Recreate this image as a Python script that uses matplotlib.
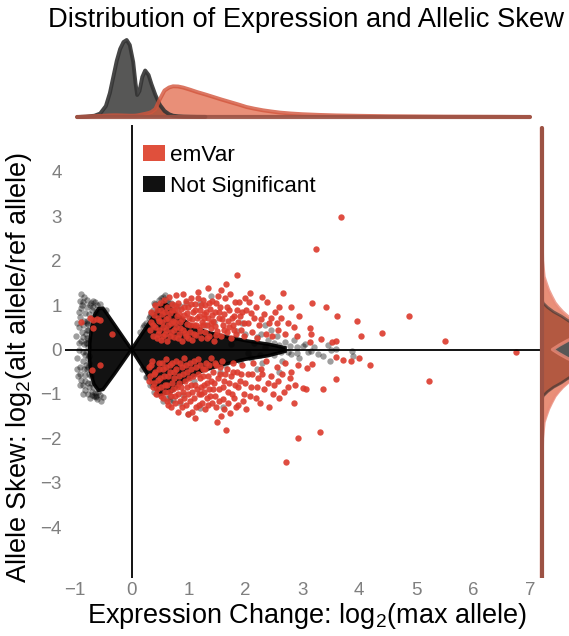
import matplotlib
matplotlib.use("Agg")
import matplotlib.pyplot as plt
from matplotlib.patches import Patch

plt.rcParams['font.family'] = ['Liberation Sans', 'DejaVu Sans']
plt.rcParams['mathtext.fontset'] = 'custom'
plt.rcParams['mathtext.rm'] = 'Liberation Sans'
plt.rcParams['mathtext.it'] = 'Liberation Sans:italic'
plt.rcParams['mathtext.default'] = 'regular'

# ---------------- data ----------------
title = "Distribution of Expression and Allelic Skew"
xlabel = r"Expression Change: log$_2$(max allele)"
ylabel = r"Allele Skew: log$_2$(alt allele/ref allele)"
xticks = [-1, 0, 1, 2, 3, 4, 5, 6, 7]
yticks = [-4, -3, -2, -1, 0, 1, 2, 3, 4]
legend_labels = ["emVar", "Not Significant"]

# marginal density of expression (top)
expr_grid = [-0.95, -0.8, -0.65, -0.55, -0.45, -0.38, -0.32, -0.26, -0.2, -0.14, -0.085,
             -0.03, 0.03, 0.07, 0.1, 0.14, 0.19, 0.24, 0.3, 0.35, 0.42, 0.5, 0.58, 0.66,
             0.73, 0.82, 0.91, 1.03, 1.15, 1.3, 1.44, 1.58, 1.73, 1.88, 2.02, 2.16, 2.31,
             2.46, 2.61, 2.8, 3.0, 3.3, 3.6, 4.0, 4.5, 5.0, 5.5, 6.0, 6.5, 7.0]
expr_dens_ns = [0, 0.4, 1.3, 3.5, 11, 24, 40, 56, 68, 75, 77,
                72, 55, 34, 22, 26, 40, 46.5, 42, 33, 22, 12, 6, 2.8,
                1.3, 0.7, 0.4, 0.25, 0.15, 0.1, 0.06, 0.04, 0.03, 0.02, 0.01, 0, 0,
                0, 0, 0, 0, 0, 0, 0, 0, 0, 0, 0, 0, 0]
expr_dens_em = [0, 0.4, 0.8, 1.1, 1.4, 1.6, 1.7, 1.7, 1.6, 1.5, 1.4,
                1.3, 1.3, 1.4, 1.6, 2.0, 2.6, 3.2, 4.0, 5.0, 8.0, 18, 26.5, 29.5,
                30.7, 30.5, 29.4, 27.3, 25, 22.5, 20, 17.5, 15, 12.5, 10, 8.3, 6.7,
                5.5, 4.4, 3.5, 2.8, 2.1, 1.6, 1.2, 0.8, 0.6, 0.4, 0.3, 0.2, 0]

# marginal density of allelic skew (right)
skew_grid = [-5.15, -4.0, -3.0, -2.5, -2.0, -1.8, -1.64, -1.5, -1.34, -1.2, -1.05, -0.95,
             -0.85, -0.75, -0.63, -0.55, -0.45, -0.3, -0.2, -0.1, 0.0, 0.1, 0.2, 0.3,
             0.45, 0.55, 0.63, 0.75, 0.85, 0.95, 1.05, 1.2, 1.34, 1.5, 1.64, 1.8, 2.0,
             2.5, 3.0, 4.0, 4.98]
skew_dens_ns = [0, 0, 0, 0, 0, 0, 0, 0, 0, 0.3, 1.5, 6,
                12, 20, 28, 38, 55, 95, 125, 150, 165, 150, 125, 95,
                55, 38, 28, 20, 12, 6, 1.5, 0.3, 0, 0, 0, 0, 0,
                0, 0, 0, 0]
skew_dens_em = [0, 0.1, 0.25, 0.5, 1, 1.8, 2.5, 4.5, 7, 10, 13.5, 17,
                21, 26, 34, 41, 45, 36, 26, 18, 11, 18, 26, 36,
                45, 41, 34, 26, 21, 17, 13.5, 10, 7, 4.5, 2.5, 1.8, 1,
                0.5, 0.3, 0.1, 0]

# dense core of non-significant variants (outline of the saturated region)
core_left_x = [0.0, -0.3, -0.5, -0.58, -0.65, -0.7, -0.73, -0.74, -0.72, -0.66, -0.58, -0.5, -0.3, 0.0]
core_left_y = [0.0, 0.56, 0.93, 0.92, 0.78, 0.5, 0.2, -0.15, -0.5, -0.78, -0.92, -0.9, -0.55, 0.0]
core_right_x = [0.0, 0.27, 0.5, 0.56, 0.65, 0.8, 1.0, 1.3, 1.7, 2.0, 2.4, 2.7,
                2.7, 2.4, 2.0, 1.6, 1.2, 0.9, 0.7, 0.5, 0.44, 0.27, 0.0]
core_right_y = [0.0, 0.52, 0.96, 1.06, 0.98, 0.78, 0.58, 0.4, 0.28, 0.2, 0.12, 0.04,
                -0.04, -0.14, -0.22, -0.34, -0.5, -0.74, -0.95, -1.02, -0.91, -0.54, 0.0]

# individually visible non-significant variants
ns_x = [-0.89, -0.85, -0.79, -0.73, -0.88, -0.82, -0.67, -0.9, -0.85, -0.79, -0.85, -0.76,
        -0.82, -0.85, -0.9, -0.82, -0.88, -0.76, -0.82, -0.7, -0.73, -0.64, -0.93, -0.5,
        -0.95, -0.92, -0.78, -0.74, -0.7, -0.62, -0.6, -0.77, -0.8, -0.74, -0.78, -0.72,
        -0.68, -0.58, -0.86, -0.95, -0.92, -0.75, -0.84, -0.8, -0.9, -0.87, -0.66, -0.6,
        -0.77, -0.76, -0.78, -0.77, -0.74, -0.7, -0.72, -0.79, -0.8, -0.78, -0.76,
        -0.55, -0.45, -0.64, -0.56, -0.62, -0.54,
        -0.98, -0.96, -0.93, -0.91, -0.87, -0.83, -0.81, -0.79, -0.76, -0.75, -0.72, -0.69,
        -0.86, -0.84, -0.8, -0.88, -0.94, -0.9, -0.83, -0.68, -0.85, -0.62,
        0.42, 0.48, 0.55, 0.6, 0.65, 0.7, 0.38, 0.75, 0.52, 0.33, 0.25, 0.3, 0.2, 0.28, 0.36, 0.45,
        0.62, 0.58, 0.8, 0.68,
        0.15, 0.22, 0.35, 0.4, 0.18, 0.25, 0.32, 0.4, 0.55, 0.68, 0.9, 0.85,
        1.5, 1.65, 1.8, 1.9, 2.0, 2.1, 2.2, 2.3, 2.4, 2.5, 2.55, 2.6, 2.65, 2.7, 2.8,
        2.85, 2.9, 2.95, 3.02, 3.15, 3.27, 3.37, 3.46, 3.48, 3.87, 3.9, 2.45, 2.2, 1.2,
        0.73, 1.95, 2.35, 2.6, 1.0, 1.4, 0.95, 1.21, 1.6, 0.85, 3.6, 3.05, 2.75,
        1.75, 2.05, 2.15, 2.25, 2.35, 2.5, 2.62, 2.78, 2.9, 3.1, 3.2, 3.5,
        1.3, 1.55, 1.85, 1.45, 1.1, 2.28]
ns_y = [1.25, 1.08, 1.11, 1.0, 0.93, 0.82, 0.96, 0.74, 0.55, 0.44, 0.29, 0.21,
        -0.12, -0.27, -0.39, -0.57, -0.69, -0.76, -0.91, -1.02, -1.1, -0.99, 0.0, -1.06,
        0.6, 0.5, 0.65, 0.8, 0.7, 0.85, 1.0, 0.05, 0.35, -0.3, -0.45, -0.6,
        -0.85, -0.95, -0.8, -0.2, 0.15, -0.15, 0.12, -0.35, -0.55, 1.0, -1.05, -1.12,
        -1.0, 0.45, 0.15, -0.2, -0.55, 0.9, -0.75, 0.25, -0.05, 0.6, -0.4,
        1.02, 0.9, 1.08, -1.02, -1.08, -1.15,
        0.3, -0.45, 0.85, -0.8, 0.4, 0.65, -0.7, 0.95, 0.58, -0.85, 1.05, -0.95,
        -0.05, -0.45, 0.15, 0.2, -0.6, 1.1, 1.18, 1.1, -1.0, -1.05,
        1.02, 1.12, 1.18, 1.12, 1.08, 1.05, 0.9, 1.0, 1.15, 0.75, 0.6, 0.72, 0.5, -0.62, -0.78, -1.0,
        -1.1, 1.22, 0.92, -1.05,
        0.4, 0.55, 0.82, 1.05, -0.45, -0.62, -0.8, -0.95, -1.15, -1.15, -1.02, 0.98,
        0.3, -0.35, 0.25, -0.25, 0.35, -0.2, 0.28, -0.3, 0.22, -0.12, 0.3, 0.1, -0.25, 0.18, -0.1,
        0.22, 0.05, -0.2, 0.09, -0.03, -0.1, -0.14, 0.1, -0.27, -0.03, -0.14, 0.45, -0.45, -1.32,
        -1.13, 0.6, 0.55, -0.5, -1.45, 1.2, 1.05, 1.04, -1.3, -1.2, 0.02, 0.12, -0.06,
        0.12, -0.08, 0.15, -0.12, 0.05, 0.14, -0.05, 0.08, -0.08, -0.05, 0.06, -0.02,
        0.55, -0.5, 0.42, 0.62, -0.72, 0.35]

# emVars
em_x = [-0.88, -0.73, -0.67, -0.61, -0.55, -0.67, -0.35, -0.7, -0.55,
        0.32, 0.35, 0.38, 0.40, 0.42, 0.45, 0.47, 0.48, 0.50, 0.52, 0.53, 0.55,
        0.57, 0.58, 0.6, 0.62, 0.63, 0.65, 0.66, 0.68, 0.7, 0.71, 0.73, 0.75, 0.76, 0.78, 0.79, 0.8,
        0.82, 0.83, 0.85, 0.87, 0.88, 0.9, 0.91, 0.93, 0.95, 0.96, 0.98, 1.0, 1.01, 1.03, 1.05, 1.06, 1.08, 1.1,
        1.12, 1.13, 1.15, 1.17, 1.18, 1.2, 1.22, 1.24, 1.25, 1.27, 1.29, 1.3, 1.32, 1.34, 1.35, 1.37, 1.38, 1.4,
        1.42, 1.44, 1.45, 1.47, 1.49, 1.5, 1.53, 1.55, 1.57, 1.58, 1.6, 1.62, 1.64, 1.66, 1.67, 1.69,
        1.72, 1.73, 1.75, 1.78, 1.8, 1.82, 1.84, 1.86, 1.87, 1.89, 1.92, 1.95, 1.98, 2.02, 2.05, 2.07, 2.09,
        2.12, 2.15, 2.2, 2.24, 2.3, 2.33, 2.36, 2.39, 2.42, 2.47, 2.52, 2.57, 2.62, 2.66, 2.7, 2.75, 2.8, 2.85, 2.9, 2.95,
        0.35, 0.37, 0.41, 0.44, 0.46, 0.49, 0.51, 0.54, 0.56, 0.59, 0.61, 0.64, 0.67, 0.69, 0.72, 0.74, 0.77,
        0.79, 0.81, 0.84, 0.86, 0.89, 0.92, 0.94, 0.97, 0.99, 1.02, 1.04, 1.07, 1.09, 1.11, 1.14, 1.16, 1.19,
        1.21, 1.23, 1.26, 1.28, 1.31, 1.33, 1.36, 1.39, 1.41, 1.46, 1.48, 1.52, 1.54, 1.59, 1.63, 1.68, 1.71,
        1.76, 1.81, 1.85, 1.9, 1.97, 2.0, 2.1, 2.18, 2.27, 2.45, 2.55, 2.6,
        0.3, 0.33, 0.36, 0.4, 0.42, 0.45, 0.48, 0.5, 0.52, 0.55, 0.58,
        0.6, 0.62, 0.64, 0.66, 0.68, 0.7, 0.72, 0.74, 0.76, 0.78, 0.8, 0.82, 0.84, 0.86, 0.88, 0.9,
        0.92, 0.94, 0.96, 0.98, 1.0, 1.02, 1.04, 1.06, 1.08, 1.1, 1.12, 1.13, 1.15, 1.17, 1.19,
        1.21, 1.23, 1.25, 1.27, 1.29, 1.31, 1.33, 1.35, 1.37, 1.39, 1.41, 1.43, 1.45, 1.47, 1.49, 1.51,
        1.53, 1.55, 1.57, 1.59, 1.61, 1.63, 1.66, 1.68, 1.7, 1.73, 1.75, 1.78, 1.8, 1.82,
        1.85, 1.88, 1.9, 1.94, 1.97, 2.02, 2.05, 2.1, 2.14, 2.18, 2.22, 2.27, 2.32, 2.37, 2.42, 2.46, 2.5,
        2.55, 2.6, 2.65, 2.7, 2.75, 2.8, 2.86, 2.92, 2.92, 2.72,
        0.31, 0.34, 0.37, 0.39, 0.43, 0.46, 0.49, 0.51, 0.53, 0.56, 0.57, 0.59, 0.61, 0.63, 0.65, 0.67,
        0.69, 0.71, 0.73, 0.75, 0.77, 0.79, 0.81, 0.83, 0.85, 0.87, 0.89, 0.91, 0.93, 0.95, 0.97, 0.99,
        1.01, 1.03, 1.05, 1.07, 1.09, 1.11, 1.14, 1.16, 1.18, 1.2, 1.22, 1.24, 1.26, 1.28, 1.3, 1.32,
        1.34, 1.36, 1.38, 1.4, 1.44, 1.46, 1.48, 1.52, 1.54, 1.56, 1.6, 1.62, 1.65, 1.69, 1.72, 1.76,
        1.79, 1.83, 1.87, 1.92, 1.96, 2.0, 2.08, 2.12, 2.2, 2.25, 2.3, 2.4, 2.48, 2.58, 2.68, 2.78, 2.88,
        3.68, 3.24, 3.17, 3.41, 3.62, 3.97, 4.87, 4.4, 4.04, 3.14, 3.15, 3.14, 3.33, 3.53, 3.59,
        5.51, 6.76, 3.59, 3.71, 3.86, 4.0, 4.19, 3.17, 3.09, 3.59, 5.23, 3.02, 3.07, 3.37, 3.31]
em_y = [0.63, 0.7, 0.66, 0.68, 0.66, 0.48, 0.35, -0.46, -0.35,
        0.45, 0.62, 0.3, 0.78, 0.5, 0.9, 0.35, 0.65, 1.05, 0.22, 0.8, 0.5,
        1.12, 0.35, 0.68, 0.95, 0.2, 0.55, 1.18, 0.83, 0.4, 1.02, 0.65, 0.28, 0.9, 1.22, 0.5, 0.75,
        1.05, 0.35, 0.62, 0.92, 0.2, 1.25, 0.45, 0.78, 1.1, 0.3, 0.58, 0.95, 0.7, 0.4, 1.15, 0.22, 0.85, 0.55,
        1.02, 0.32, 0.72, 1.3, 0.5, 0.9, 0.25, 0.62, 1.12, 0.8, 0.4, 1.0, 0.55, 1.39, 0.72, 0.3, 0.92, 0.48,
        1.1, 0.65, 0.2, 0.85, 1.05, 0.42, 0.7, 0.95, 1.34, 0.3, 0.55, 0.8, 1.15, 1.48, 0.4, 0.65,
        0.9, 1.25, 0.25, 0.55, 0.75, 1.08, 0.35, 1.68, 0.62, 1.08, 0.45, 0.85, 0.3, 0.9, 0.6, 1.08, 1.28,
        0.4, 0.7, 0.25, 0.55, 1.19, 0.8, 0.35, 1.06, 0.6, 0.3, 0.85, 0.45, 0.7, 1.28, 0.35, 0.6, 0.95, 0.5, 0.3, 0.75,
        0.85, 0.55, 1.0, 0.25, 0.7, 0.45, 0.88, 0.62, 0.3, 0.85, 0.45, 0.72, 0.3, 0.6, 0.88, 0.45, 0.62,
        0.98, 0.25, 0.8, 0.48, 0.68, 0.95, 0.38, 0.82, 0.25, 0.55, 1.02, 0.68, 0.35, 0.88, 0.55, 1.15, 0.75,
        0.42, 1.0, 0.55, 0.7, 0.85, 0.25, 1.05, 0.6, 0.78, 0.52, 0.32, 1.2, 0.85, 0.68, 0.45, 0.95, 0.5,
        0.7, 0.45, 0.88, 0.75, 0.6, 1.15, 0.82, 0.95, 0.68, 0.72, 0.6, 0.95,
        -0.4, -0.6, -0.25, -0.75, -0.5, -0.9, -0.3, -0.65, -1.05, -0.45, -0.8,
        -0.22, -1.15, -0.6, -0.95, -0.35, -1.3, -0.75, -0.5, -1.05, -0.25, -0.85, -1.4, -0.6, -1.15, -0.4, -0.95,
        -0.2, -0.7, -1.25, -0.5, -1.0, -0.3, -0.8, -1.4, -0.6, -1.1, -1.55, -0.4, -0.9, -0.22, -1.25,
        -0.65, -1.0, -0.45, -0.8, -1.35, -0.3, -1.1, -0.6, -0.9, -0.2, -1.2, -0.5, -0.75, -1.05, -0.35, -1.63,
        -0.9, -0.55, -1.49, -0.25, -1.12, -0.7, -1.81, -0.45, -0.95, -1.42, -0.6, -0.3, -1.1, -0.8,
        -0.5, -1.25, -0.7, -0.35, -1.0, -1.33, -0.55, -0.85, -0.3, -1.1, -0.65, -0.45, -0.9, -0.25, -1.29, -0.6, -0.8,
        -0.4, -1.1, -0.55, -0.3, -0.85, -0.5, -1.2, -0.35, -1.99, -2.53,
        -0.7, -0.35, -0.85, -0.55, -1.0, -0.68, -0.45, -0.85, -0.3, -1.1, -0.6, -0.95, -0.4, -0.8, -1.25, -0.5,
        -1.05, -0.3, -0.9, -0.65, -1.2, -0.45, -1.0, -0.75, -0.3, -0.85, -1.3, -0.55, -1.1, -0.35, -0.85, -1.45,
        -0.65, -1.15, -0.45, -0.95, -0.25, -0.8, -1.3, -0.55, -1.0, -0.35, -0.85, -1.2, -0.6, -0.95, -0.45, -0.75,
        -1.25, -0.35, -1.05, -0.7, -0.9, -0.3, -1.3, -0.65, -1.15, -0.4, -0.85, -1.35, -0.55, -1.2, -0.75, -1.0,
        -0.5, -1.3, -0.85, -0.55, -1.15, -0.75, -1.05, -0.55, -0.85, -1.2, -0.55, -0.75, -1.0, -0.7, -0.95, -0.65, -0.8,
        2.99, 2.26, 1.04, 0.95, 0.75, 0.64, 0.76, 0.38, 0.31, 0.49, 0.35, 0.18, 0.23, 0.16, 0.2,
        0.2, -0.05, -0.18, -0.24, -0.25, -0.19, -0.36, -0.33, -0.42, -0.67, -0.72, -0.87, -0.9, -0.9, -1.85]

# ---------------- styling ----------------
W, H = 569, 636
RED = '#dc3a2c'
NS_FILL = '#3a3a38'
EM_FILL = '#df5a38'
EM_LINE = '#d2553c'
NS_LINE = '#333333'

fig = plt.figure(figsize=(W / 100, H / 100), dpi=100)

def frac(l, t, r, b):
    return [l / W, 1 - b / H, (r - l) / W, (b - t) / H]

xlim = ((65 - 131.5) / 56.9, (541 - 131.5) / 56.9)
ylim = ((349.5 - 578) / 44.4, (349.5 - 125) / 44.4)

ax = fig.add_axes(frac(65, 125, 541, 578))
ax_top = fig.add_axes(frac(65, 28, 541, 125))
ax_r = fig.add_axes(frac(533, 125, 733, 578))

# main scatter
ax.fill(core_left_x, core_left_y, color='black', alpha=0.93, lw=2.5, ec='black', zorder=2)
ax.fill(core_right_x, core_right_y, color='black', alpha=0.93, lw=2.5, ec='black', zorder=2)
ax.scatter(ns_x, ns_y, s=21, color='black', alpha=0.38, lw=0, zorder=3)
ax.scatter(em_x, em_y, s=21, color=RED, alpha=0.9, lw=0, zorder=4)
ax.axhline(0, color='black', lw=1.3, zorder=5)
ax.axvline(0, color='black', lw=1.3, zorder=5)
ax.set_xlim(*xlim)
ax.set_ylim(*ylim)
ax.set_xticks(xticks)
ax.set_yticks(yticks)
ax.tick_params(length=0, labelsize=13.5, labelcolor='#7f7f7f')
ax.tick_params(axis='y', pad=2.5)
ax.tick_params(axis='x', pad=3)
for s in ax.spines.values():
    s.set_visible(False)

ax.legend(handles=[Patch(facecolor='#e0503c', edgecolor='none'),
                   Patch(facecolor='#111111', edgecolor='none')],
          labels=legend_labels, loc='upper left',
          bbox_to_anchor=((143 - 65) / 476, (578 - 145) / 453),
          frameon=False, fontsize=16.2, handlelength=0.97, handleheight=0.7,
          handletextpad=0.25, labelspacing=0.45, borderpad=0, borderaxespad=0)

# top marginal
ax_top.fill_between(expr_grid, 0, expr_dens_ns, color=NS_FILL, alpha=0.85, lw=0)
ax_top.plot(expr_grid[:30], expr_dens_ns[:30], color=NS_LINE, lw=2.8, alpha=0.9,
            solid_capstyle='round', solid_joinstyle='round')
ax_top.fill_between(expr_grid, 0, expr_dens_em, color=EM_FILL, alpha=0.68, lw=0)
ax_top.plot(expr_grid, expr_dens_em, color=EM_LINE, lw=2.8, alpha=0.8,
            solid_capstyle='round', solid_joinstyle='round')
ax_top.plot([expr_grid[0], expr_grid[-1]], [0, 0], color='#9c5244', lw=3, alpha=0.9,
            solid_capstyle='round')
ax_top.set_xlim(*xlim)
ax_top.set_ylim(-8, 89)
ax_top.axis('off')

# right marginal
ax_r.fill_betweenx(skew_grid, 0, skew_dens_ns, color=NS_FILL, alpha=0.85, lw=0)
ax_r.plot(skew_dens_ns, skew_grid, color=NS_LINE, lw=2.0, alpha=0.6, solid_joinstyle='round')
ax_r.fill_betweenx(skew_grid, 0, skew_dens_em, color=EM_FILL, alpha=0.68, lw=0)
ax_r.plot(skew_dens_em, skew_grid, color='#e98a78', lw=2.4, alpha=0.8, solid_joinstyle='round')
ax_r.plot([0, 0], [skew_grid[0], skew_grid[-1]], color='#9c5244', lw=3,
          solid_capstyle='round')
ax_r.set_xlim(-8.5, 191.5)
ax_r.set_ylim(*ylim)
ax_r.axis('off')

fig.text(306 / W, 1 - 20 / H, title, ha='center', va='center', fontsize=19.7)
fig.text(307.5 / W, 1 - 616 / H, xlabel, ha='center', va='center', fontsize=19.5)
fig.text(19 / W, 1 - 367 / H, ylabel, ha='center', va='center', rotation=90, fontsize=19.5)

fig.savefig('out.png', dpi=100)
